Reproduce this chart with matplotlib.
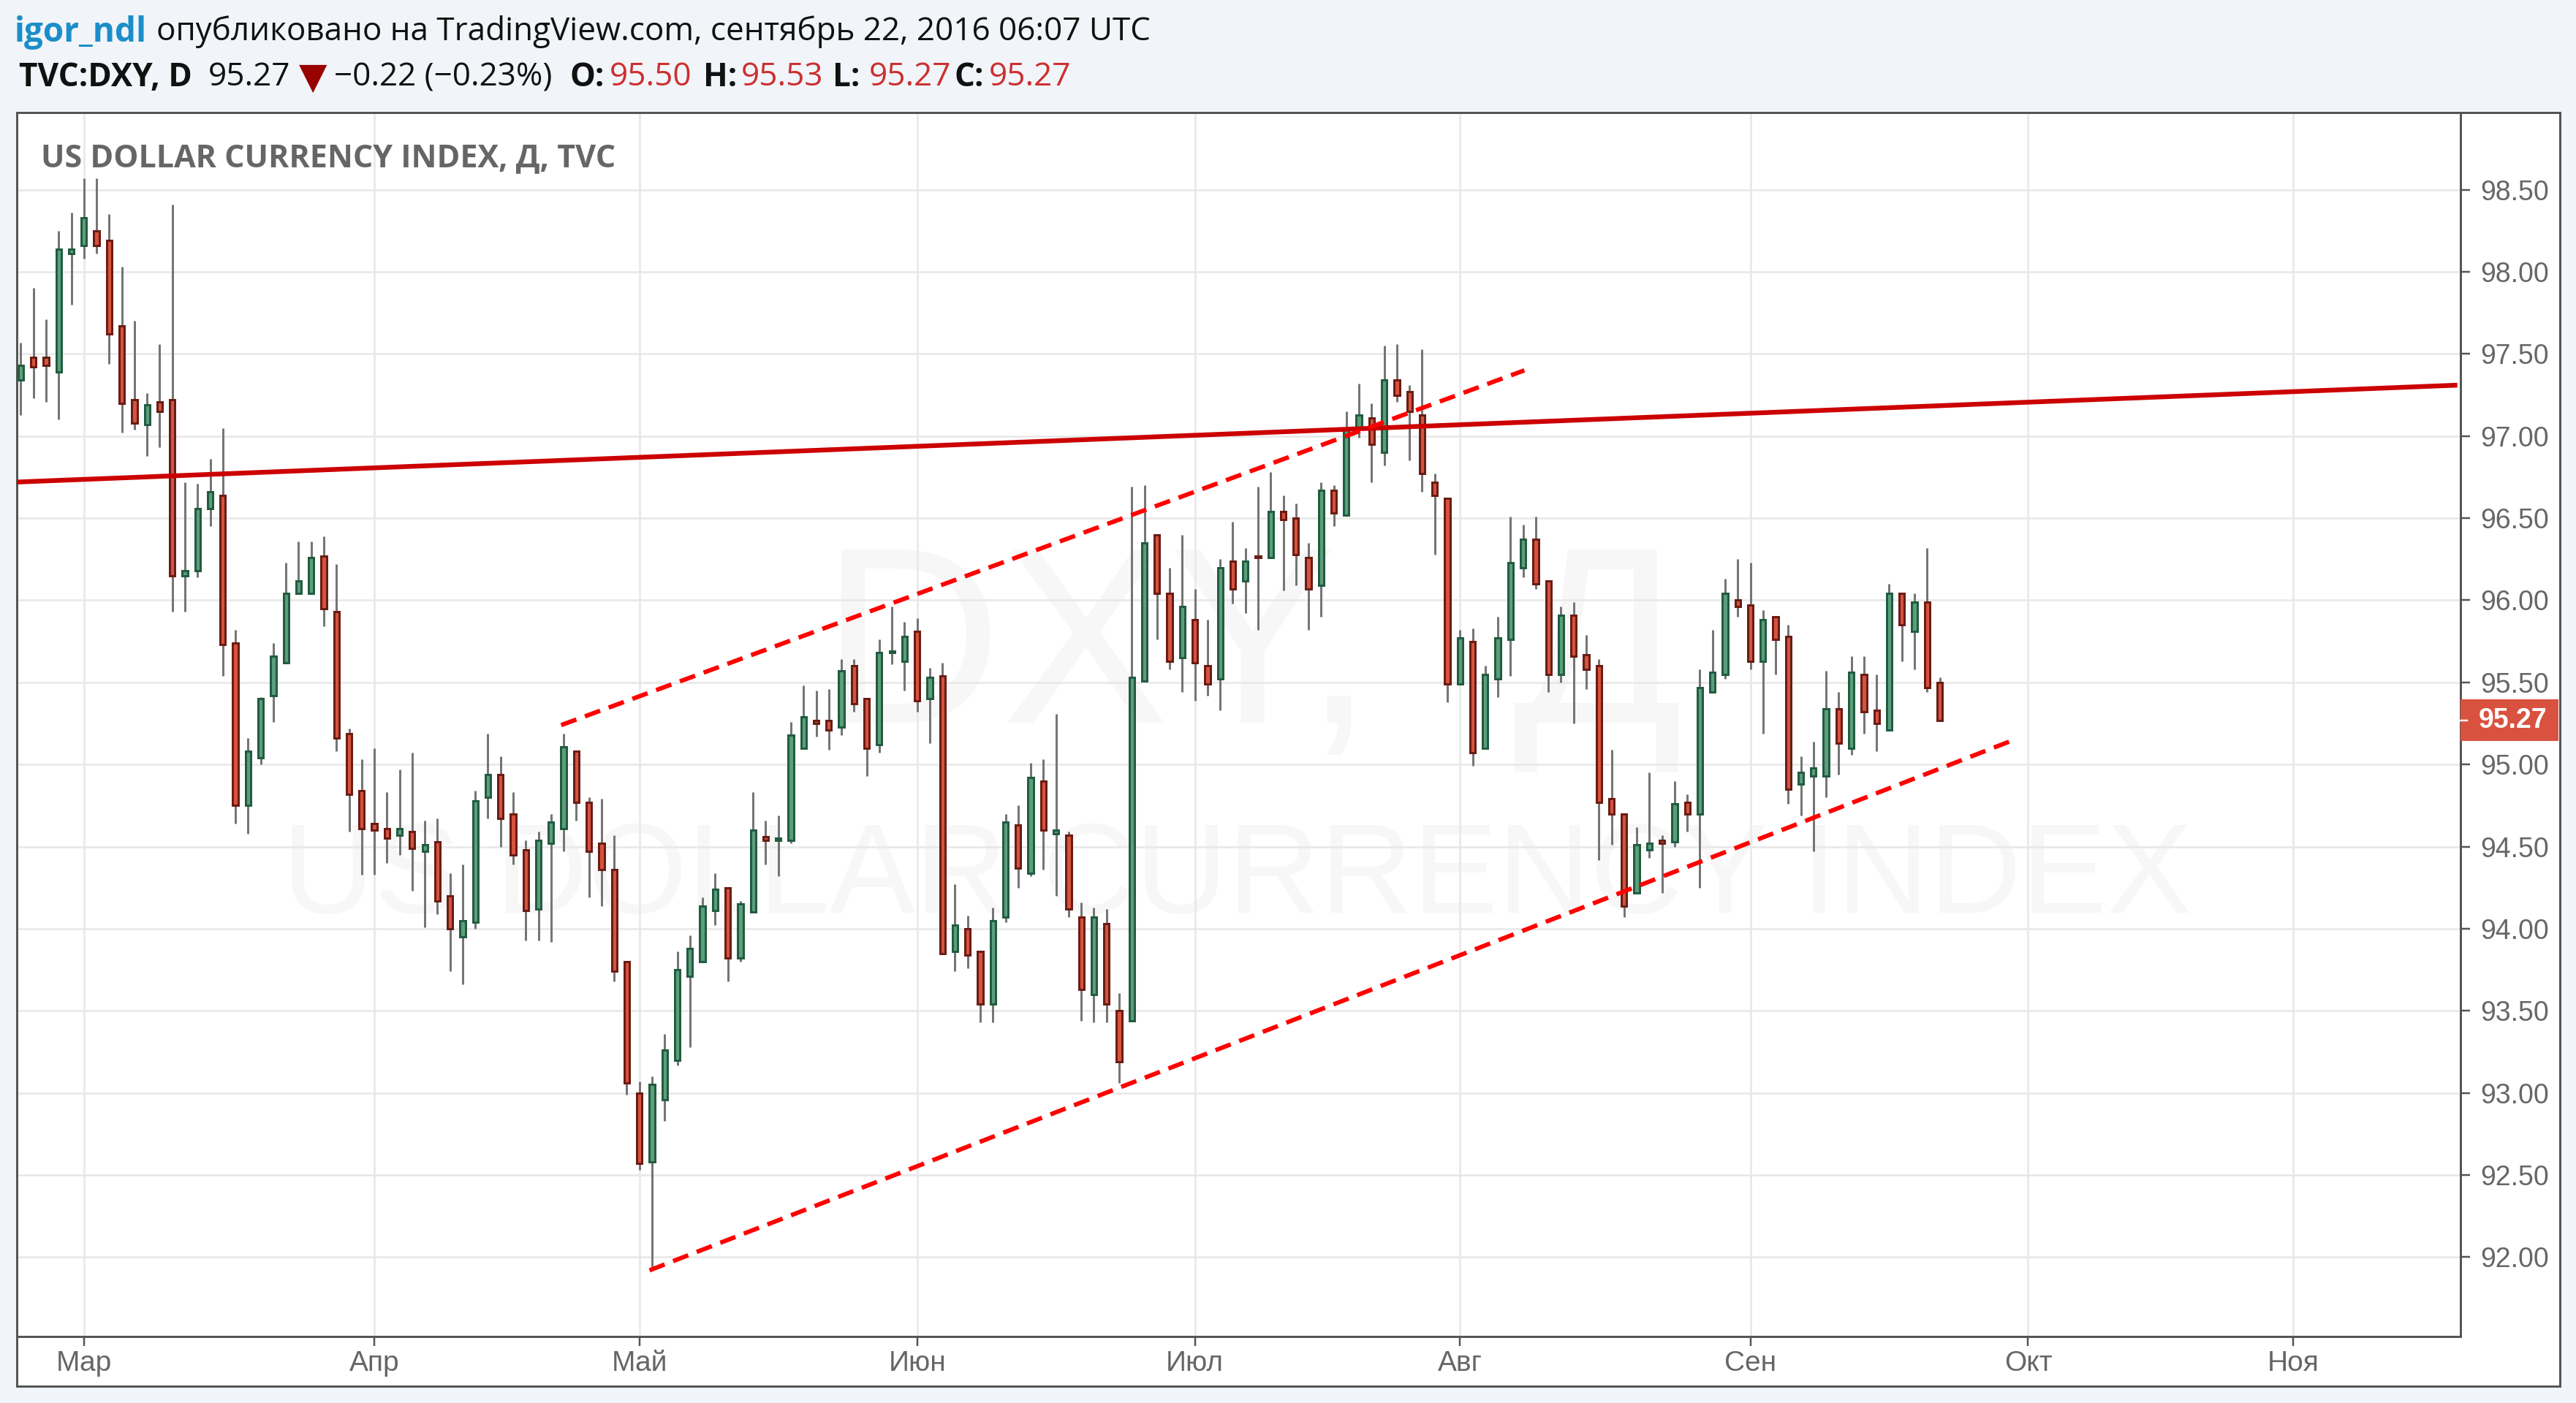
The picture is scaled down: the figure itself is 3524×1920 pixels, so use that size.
#!/usr/bin/env python3
import matplotlib
matplotlib.use("Agg")
import matplotlib.pyplot as plt
import numpy as np
from matplotlib.patches import Rectangle
from matplotlib.transforms import blended_transform_factory

# ---- DATA ----
opens = [
  97.34, 97.48, 97.48, 97.39, 98.11, 98.16, 98.25, 98.19, 97.67, 97.22,
  97.07, 97.21, 97.22, 96.15, 96.18, 96.56, 96.64, 95.74, 94.75, 95.04,
  95.42, 95.62, 96.04, 96.04, 96.27, 95.93, 95.19, 94.84, 94.64, 94.61,
  94.57, 94.59, 94.47, 94.53, 94.20, 93.95, 94.04, 94.80, 94.94, 94.70,
  94.48, 94.12, 94.52, 94.61, 95.08, 94.77, 94.52, 94.36, 93.80, 93.00,
  92.58, 92.96, 93.20, 93.71, 93.80, 94.11, 94.25, 93.82, 94.10, 94.56,
  94.54, 94.54, 95.10, 95.27, 95.27, 95.23, 95.60, 95.40, 95.12, 95.68,
  95.63, 95.81, 95.40, 95.54, 93.86, 94.00, 93.86, 93.54, 94.07, 94.63,
  94.34, 94.90, 94.58, 94.57, 94.07, 93.60, 94.03, 93.50, 93.44, 95.51,
  96.40, 96.04, 95.65, 95.88, 95.60, 95.52, 96.24, 96.12, 96.27, 96.26,
  96.54, 96.50, 96.26, 96.09, 96.67, 96.52, 97.05, 97.11, 96.90, 97.34,
  97.27, 97.13, 96.72, 96.62, 95.49, 95.75, 95.10, 95.52, 95.76, 96.20,
  96.37, 96.12, 95.55, 95.91, 95.67, 95.60, 94.79, 94.70, 94.22, 94.48,
  94.54, 94.53, 94.77, 94.70, 95.44, 95.55, 96.00, 95.97, 95.63, 95.90,
  95.78, 94.88, 94.93, 94.93, 95.34, 95.10, 95.55, 95.33, 95.21, 96.04,
  95.81, 95.99, 95.50,
]
closes = [
  97.43, 97.42, 97.43, 98.14, 98.14, 98.33, 98.16, 97.62, 97.20, 97.08,
  97.19, 97.15, 96.15, 96.18, 96.56, 96.66, 95.73, 94.75, 95.08, 95.40,
  95.66, 96.04, 96.12, 96.26, 95.95, 95.16, 94.82, 94.61, 94.60, 94.55,
  94.61, 94.49, 94.51, 94.17, 94.00, 94.05, 94.78, 94.94, 94.67, 94.45,
  94.11, 94.54, 94.65, 95.11, 94.77, 94.47, 94.36, 93.74, 93.06, 92.57,
  93.05, 93.26, 93.75, 93.88, 94.14, 94.24, 93.82, 94.15, 94.60, 94.54,
  94.55, 95.18, 95.29, 95.25, 95.21, 95.57, 95.37, 95.10, 95.68, 95.69,
  95.78, 95.39, 95.53, 93.85, 94.02, 93.84, 93.54, 94.05, 94.65, 94.37,
  94.92, 94.60, 94.60, 94.12, 93.63, 94.07, 93.54, 93.19, 95.53, 96.35,
  96.04, 95.63, 95.96, 95.62, 95.49, 96.20, 96.07, 96.24, 96.26, 96.54,
  96.49, 96.28, 96.07, 96.67, 96.53, 97.04, 97.13, 96.95, 97.34, 97.25,
  97.15, 96.77, 96.64, 95.49, 95.77, 95.07, 95.55, 95.77, 96.23, 96.37,
  96.10, 95.55, 95.91, 95.66, 95.58, 94.77, 94.70, 94.14, 94.51, 94.52,
  94.52, 94.76, 94.70, 95.47, 95.56, 96.04, 95.96, 95.63, 95.88, 95.76,
  94.85, 94.95, 94.98, 95.34, 95.13, 95.56, 95.32, 95.25, 96.04, 95.85,
  95.99, 95.47, 95.27,
]
highs = [
  97.57, 97.90, 97.71, 98.25, 98.36, 98.57, 98.57, 98.35, 98.03, 97.70,
  97.26, 97.56, 98.41, 96.72, 96.71, 96.86, 97.05, 95.82, 95.16, 95.41,
  95.74, 96.23, 96.36, 96.36, 96.39, 96.22, 95.22, 95.03, 95.10, 94.83,
  94.97, 95.07, 94.66, 94.67, 94.34, 94.39, 94.84, 95.19, 95.05, 94.83,
  94.54, 94.59, 94.70, 95.19, 95.08, 94.80, 94.79, 94.57, 93.80, 93.07,
  93.10, 93.36, 93.86, 93.96, 94.19, 94.34, 94.25, 94.17, 94.83, 94.66,
  94.69, 95.26, 95.48, 95.45, 95.46, 95.64, 95.64, 95.40, 95.76, 95.96,
  95.87, 95.89, 95.59, 95.62, 94.27, 94.08, 93.86, 94.13, 94.70, 94.75,
  95.01, 95.03, 95.31, 94.59, 94.16, 94.13, 94.12, 93.61, 96.69, 96.70,
  96.40, 96.20, 96.40, 96.07, 95.88, 96.25, 96.48, 96.32, 96.69, 96.78,
  96.64, 96.59, 96.35, 96.72, 96.70, 97.15, 97.32, 97.20, 97.55, 97.56,
  97.31, 97.53, 96.77, 96.62, 95.82, 95.83, 95.60, 95.90, 96.51, 96.46,
  96.51, 96.12, 95.96, 95.99, 95.79, 95.64, 95.09, 94.70, 94.62, 94.95,
  94.57, 94.90, 94.82, 95.58, 95.82, 96.13, 96.25, 96.23, 95.94, 95.90,
  95.85, 95.05, 95.14, 95.57, 95.44, 95.66, 95.66, 95.55, 96.10, 96.04,
  96.04, 96.32, 95.53,
]
lows = [
  97.13, 97.23, 97.21, 97.10, 97.80, 98.08, 98.11, 97.44, 97.02, 97.04,
  96.88, 96.93, 95.93, 95.93, 96.14, 96.45, 95.54, 94.64, 94.58, 95.00,
  95.26, 95.62, 96.04, 96.04, 95.84, 95.08, 94.59, 94.33, 94.33, 94.40,
  94.45, 94.23, 94.01, 94.09, 93.74, 93.66, 94.00, 94.67, 94.50, 94.39,
  93.93, 93.93, 93.92, 94.47, 94.66, 94.19, 94.14, 93.68, 92.99, 92.53,
  91.94, 92.83, 93.17, 93.28, 93.80, 94.02, 93.68, 93.80, 94.10, 94.39,
  94.32, 94.52, 95.10, 95.17, 95.09, 95.18, 95.32, 94.93, 95.07, 95.61,
  95.45, 95.32, 95.13, 93.85, 93.74, 93.76, 93.43, 93.43, 94.04, 94.25,
  94.32, 94.36, 94.20, 94.07, 93.44, 93.43, 93.43, 93.06, 93.44, 95.51,
  95.76, 95.58, 95.44, 95.39, 95.42, 95.33, 95.98, 95.92, 95.82, 96.26,
  96.06, 96.09, 95.82, 95.90, 96.45, 96.52, 96.99, 96.72, 96.82, 97.21,
  96.85, 96.66, 96.28, 95.38, 95.49, 94.99, 95.10, 95.41, 95.54, 96.14,
  96.07, 95.44, 95.50, 95.25, 95.46, 94.42, 94.51, 94.07, 94.22, 94.43,
  94.22, 94.50, 94.59, 94.25, 95.44, 95.52, 95.90, 95.58, 95.19, 95.55,
  94.76, 94.69, 94.47, 94.80, 94.94, 95.06, 95.19, 95.08, 95.21, 95.63,
  95.58, 95.44, 95.27,
]

month_labels = ["Мар", "Апр", "Май", "Июн", "Июл", "Авг", "Сен", "Окт", "Ноя"]
month_bars = [5, 28, 49, 71, 93, 114, 137, 159, 180]
price_ticks = [92.0, 92.5, 93.0, 93.5, 94.0, 94.5, 95.0, 95.5, 96.0, 96.5, 97.0, 97.5, 98.0, 98.5]
last_price = 95.27

# trend lines drawn on the chart: (bar, price) at both ends
solid_bars, solid_prices = [-0.3, 193.0], [96.72, 97.31]
upper_bars, upper_prices = [42.8, 119.1], [95.24, 97.40]
lower_bars, lower_prices = [49.8, 157.7], [91.92, 95.145]

# ---- SETTINGS ----
W, H = 3524, 1920
px = 0.72  # points per pixel at dpi 100
plt.rcParams["font.family"] = ["Liberation Sans", "DejaVu Sans"]
HEAD = ["Open Sans", "DejaVu Sans"]
PAGE = "#f1f4f8"
FRAME = "#555555"
GRID = "#e8e8e8"
RED, RED_EDGE = "#d5533f", "#6a1c14"
GREEN, GREEN_EDGE = "#5c9e7c", "#225c40"
WICK = "#757575"


def axes_box(x0, y0, x1, y1):
  return [x0 / W, 1 - y1 / H, (x1 - x0) / W, (y1 - y0) / H]


def head(x, y, s, color="#111111", weight="normal", size=31.7):
  fig.text(x / W, 1 - y / H, s, color=color, fontweight=weight, fontsize=size,
           family=HEAD, ha="left", va="center")


fig = plt.figure(figsize=(W / 100, H / 100), dpi=100, facecolor=PAGE)

# outer frame holds the white area under the price and time scales
outer = fig.add_axes(axes_box(23, 154, 3501.7, 1896.7), facecolor="white")
outer.set_xticks([])
outer.set_yticks([])
for sp in outer.spines.values():
  sp.set_color(FRAME)
  sp.set_linewidth(3 * px)

ax = fig.add_axes(axes_box(23, 154, 3365.6, 1829), facecolor="none")
ax.set_xlim(-0.318, 193.23)
ax.set_ylim(91.517, 98.97)
for sp in ax.spines.values():
  sp.set_color(FRAME)
  sp.set_linewidth(3 * px)

# ---- WATERMARK ----
ax.text(0.5055, 0.5546, "DXY,  Д", transform=ax.transAxes, ha="center", va="center",
        fontsize=247, color="#f7f7f7", zorder=0)
ax.text(0.4995, 0.3730, "US DOLLAR CURRENCY INDEX", transform=ax.transAxes, ha="center", va="center",
        fontsize=126, color="#f7f7f7", zorder=0)

# ---- GRID ----
ax.set_xticks(month_bars)
ax.set_xticklabels(month_labels)
ax.yaxis.tick_right()
ax.set_yticks(price_ticks)
ax.set_yticklabels([f"{p:.2f}" for p in price_ticks])
ax.grid(True, color=GRID, linewidth=2.6 * px, zorder=1)
ax.set_axisbelow(True)
ax.tick_params(axis="x", length=12.5 * px, width=2.5 * px, color=FRAME, labelcolor="#666666",
               labelsize=28, pad=5)
ax.tick_params(axis="y", length=12.5 * px, width=2.5 * px, color=FRAME, labelcolor="#666666",
               labelsize=27, pad=11)

# ---- CANDLES ----
bars = np.arange(len(opens))
o = np.array(opens)
c = np.array(closes)
up = c >= o
ax.vlines(bars, lows, highs, color=WICK, linewidth=3 * px, zorder=2)
ax.bar(bars, np.abs(c - o), bottom=np.minimum(o, c), width=0.42,
       color=[GREEN if u else RED for u in up],
       edgecolor=[GREEN_EDGE if u else RED_EDGE for u in up],
       linewidth=3 * px, zorder=3)

# ---- TREND LINES ----
ax.plot(solid_bars, solid_prices, color="#cc0000", linewidth=6.5 * px, solid_capstyle="butt", zorder=4)
for xs, ys in [(upper_bars, upper_prices), (lower_bars, lower_prices)]:
  ax.plot(xs, ys, color="#ff0000", linewidth=6 * px, dashes=(3.7, 2.07), dash_capstyle="butt", zorder=5)

# ---- LAST PRICE TAG ----
tag = blended_transform_factory(ax.transAxes, ax.transData)
ax.add_patch(Rectangle((1.0, last_price - 0.125), 0.0402, 0.25, transform=tag, clip_on=False,
                       facecolor="#d9513f", edgecolor="none", zorder=6))
ax.plot([1.0, 1.0028], [last_price, last_price], transform=tag, clip_on=False, color="white",
        linewidth=2.5 * px, zorder=7)
ax.annotate(f"{last_price:.2f}", xy=(1.0, last_price), xycoords=tag, xytext=(25.5 * px, 0),
            textcoords="offset points", ha="left", va="center", color="white", fontsize=27,
            fontweight="bold", zorder=7)

# ---- HEADER ----
fig.text(55.7 / W, 1 - 217 / H, "US DOLLAR CURRENCY INDEX, Д, TVC", color="#666666", fontweight="bold",
         fontsize=31, family=HEAD, ha="left", va="center")

head(20, 44, "igor_ndl", color="#1b8ec9", weight="bold", size=33)
head(214, 44, "опубликовано на TradingView.com, сентябрь 22, 2016 06:07 UTC")
head(26, 106, "TVC:DXY, D", weight="bold")
head(285, 106, "95.27")
fig.text(428 / W, 1 - 107 / H, "▼", color="#990000", fontsize=36, family=["DejaVu Sans"],
         ha="center", va="center")
head(457, 106, "−0.22 (−0.23%)")
head(780, 106, "O:", weight="bold")
head(833.5, 106, "95.50", color="#cc2f2f")
head(962, 106, "H:", weight="bold")
head(1013.6, 106, "95.53", color="#cc2f2f")
head(1139, 106, "L:", weight="bold")
head(1189, 106, "95.27", color="#cc2f2f")
head(1306, 106, "C:", weight="bold")
head(1353, 106, "95.27", color="#cc2f2f")

fig.savefig("out.png", dpi=100, facecolor=PAGE)
